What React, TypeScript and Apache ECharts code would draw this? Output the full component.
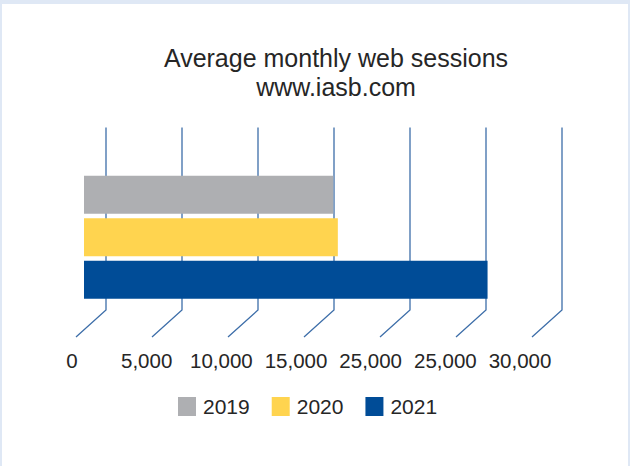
import React, { useEffect, useRef } from 'react';
import * as echarts from 'echarts';

const years = ['2019', '2020', '2021'];
const sessions = [16400, 16700, 26550];
const tickValues = [0, 5000, 10000, 15000, 20000, 25000, 30000];
const tickLabels = ['0', '5,000', '10,000', '15,000', '25,000', '25,000', '30,000'];
const titleLines = ['Average monthly web sessions', 'www.iasb.com'];
const barColors = ['#aeafb2', '#ffd44f', '#004c97'];

export default function App() {
  const ref = useRef<HTMLDivElement>(null);
  useEffect(() => {
    const chart = echarts.init(ref.current!, null, { renderer: 'svg' });
    const font = '"Liberation Sans", Arial, Helvetica, sans-serif';
    const textColor = '#262626';
    const gridColor = '#3d6ea9';
    const depthX = -30;
    const depthY = 27;
    chart.setOption({
      animation: false,
      backgroundColor: '#dfe8f5',
      color: barColors,
      graphic: [
        { type: 'rect', z: -100, silent: true, shape: { x: 2, y: 4, width: 626, height: 462 }, style: { fill: '#ffffff' } },
        {
          type: 'text', x: 336, y: 43.5, silent: true,
          style: {
            text: titleLines.join('\n'), fontSize: 25, fontFamily: font, fill: textColor,
            textAlign: 'center', textVerticalAlign: 'top', lineHeight: 29,
          },
        },
      ],
      grid: [
        { left: 106, top: 127.5, width: 456, height: 182.5 },
        { left: 84, top: 175.7, width: 456, height: 123 },
        { left: 72, top: 300, width: 448, height: 37 },
      ],
      xAxis: [
        { type: 'value', gridIndex: 0, min: 0, max: 30000, interval: 5000, show: false, splitLine: { show: false } },
        { type: 'value', gridIndex: 1, min: 0, max: 30000, interval: 5000, show: false, splitLine: { show: false } },
        {
          type: 'value', gridIndex: 2, min: 0, max: 30000, interval: 5000, position: 'bottom',
          axisLine: { show: false }, axisTick: { show: false }, splitLine: { show: false },
          axisLabel: {
            show: true, margin: 13, fontSize: 20.5, fontFamily: font, color: textColor,
            showMinLabel: true, showMaxLabel: true,
            formatter: (v: number) => tickLabels[tickValues.indexOf(v)] ?? '',
          },
        },
      ],
      yAxis: [
        { type: 'value', gridIndex: 0, min: 0, max: 1, show: false, splitLine: { show: false } },
        { type: 'category', gridIndex: 1, data: ['sessions'], inverse: true, show: false },
        { type: 'value', gridIndex: 2, min: 0, max: 1, show: false, splitLine: { show: false } },
      ],
      legend: {
        data: years, left: 173, top: 391, itemWidth: 18, itemHeight: 19, itemGap: 22,
        icon: 'rect', selectedMode: false,
        textStyle: { fontSize: 21, fontFamily: font, color: textColor, padding: [0, 0, 0, 2] },
      },
      series: [
        {
          type: 'custom', xAxisIndex: 0, yAxisIndex: 0, z: 1, silent: true,
          data: tickValues.map((v) => [v, 0]),
          renderItem: (params: any, api: any) => {
            const v = api.value(0);
            const top = api.coord([v, 1]);
            const bot = api.coord([v, 0]);
            return {
              type: 'polyline',
              shape: { points: [[top[0], top[1]], [bot[0], bot[1]], [bot[0] + depthX, bot[1] + depthY]] },
              style: { stroke: gridColor, lineWidth: 1.3, fill: null },
            };
          },
        },
        ...years.map((y, i) => ({
          name: y, type: 'bar', xAxisIndex: 1, yAxisIndex: 1, z: 2,
          barWidth: 38, barGap: '12%', barCategoryGap: 0,
          itemStyle: { color: barColors[i] },
          data: [sessions[i]],
        })),
      ],
    });
    return () => chart.dispose();
  }, []);
  return <div ref={ref} style={{ position: 'fixed', left: 0, top: 0, width: 630, height: 466 }} />;
}
